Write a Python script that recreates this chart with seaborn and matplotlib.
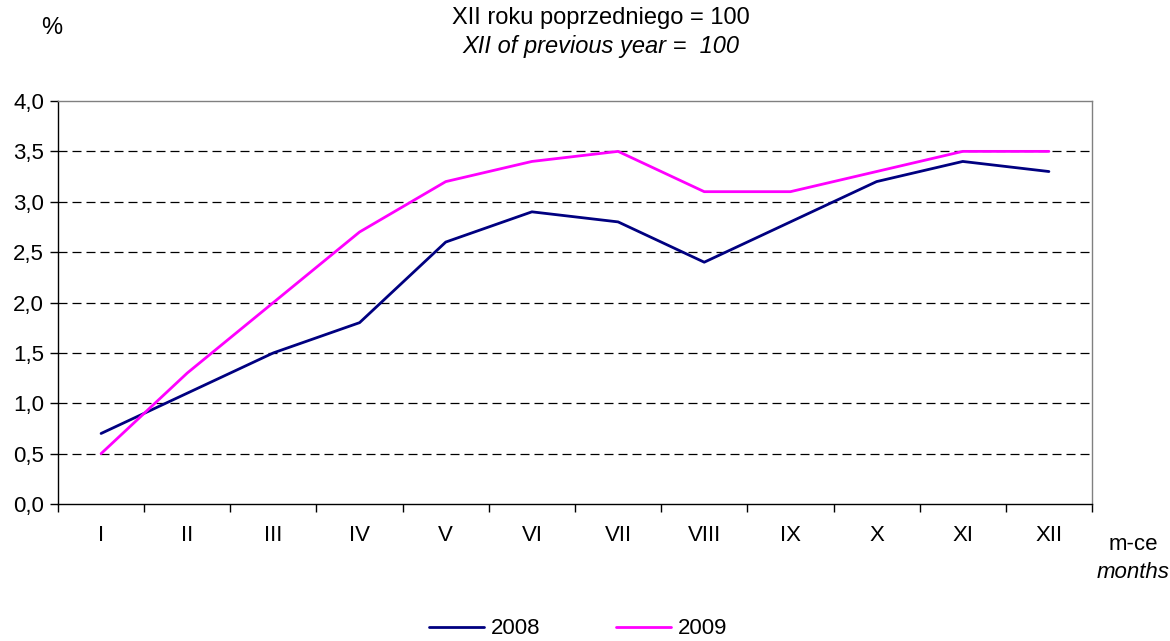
import matplotlib
matplotlib.use("Agg")
import matplotlib.pyplot as plt
import seaborn as sns
import pandas as pd
import numpy as np
from matplotlib.ticker import FixedLocator
from matplotlib.lines import Line2D

months = ["I", "II", "III", "IV", "V", "VI", "VII", "VIII", "IX", "X", "XI", "XII"]
v2008 = [0.7, 1.1, 1.5, 1.8, 2.6, 2.9, 2.8, 2.4, 2.8, 3.2, 3.4, 3.3]
v2009 = [0.5, 1.3, 2.0, 2.7, 3.2, 3.4, 3.5, 3.1, 3.1, 3.3, 3.5, 3.5]
series = ["2008", "2009"]
colors = {"2008": "#000080", "2009": "#FF00FF"}
yticks = [0.0, 0.5, 1.0, 1.5, 2.0, 2.5, 3.0, 3.5, 4.0]

df = pd.DataFrame({
    "month": months * 2,
    "pos": list(range(len(months))) * 2,
    "value": v2008 + v2009,
    "year": ["2008"] * len(months) + ["2009"] * len(months),
})

sns.set_theme(style="white")
plt.rcParams["font.family"] = ["Liberation Sans", "DejaVu Sans"]
plt.rcParams["text.color"] = "black"
plt.rcParams["xtick.color"] = "black"
plt.rcParams["ytick.color"] = "black"
FS = 16
FT = 17

fig = plt.figure(figsize=(11.7, 6.41), dpi=100)
ax = fig.add_axes([58 / 1170, 1 - 504 / 641, (1092 - 58) / 1170, (504 - 101) / 641])

sns.lineplot(data=df, x="pos", y="value", hue="year", hue_order=series,
             palette=colors, linewidth=2.0, ax=ax, legend=False, sort=False)

ax.set_xlim(-0.5, len(months) - 0.5)
ax.set_ylim(0, 4.0)
ax.set_yticks(yticks)
ax.set_yticklabels([f"{t:.1f}".replace(".", ",") for t in yticks], fontsize=FS)
ax.set_xticks(range(len(months)))
ax.set_xticklabels(months, fontsize=FS)
ax.xaxis.set_minor_locator(FixedLocator(np.arange(-0.5, len(months), 1.0)))
ax.tick_params(axis="x", which="major", length=0, pad=15, colors="black")
ax.tick_params(axis="x", which="minor", length=6, width=1, color="black", direction="out", bottom=True)
ax.tick_params(axis="y", which="major", length=6, width=1, color="black", direction="out", left=True, pad=4)
ax.set_xlabel("")
ax.set_ylabel("")

for t in yticks[1:-1]:
    ax.axhline(t, color="black", linestyle=(0, (7.2, 4)), linewidth=0.9, zorder=0)

for s in ["left", "bottom"]:
    ax.spines[s].set_color("black")
    ax.spines[s].set_linewidth(1.0)
for s in ["top", "right"]:
    ax.spines[s].set_color("#808080")
    ax.spines[s].set_linewidth(1.0)

fig.text(601 / 1170, 1 - 18 / 641, "XII roku poprzedniego = 100", ha="center", va="center", fontsize=FT)
fig.text(601 / 1170, 1 - 47 / 641, "XII of previous year =  100", ha="center", va="center", fontsize=FT, style="italic")
fig.text(52 / 1170, 1 - 28 / 641, "%", ha="center", va="center", fontsize=FT)
fig.text(1133 / 1170, 1 - 545 / 641, "m-ce", ha="center", va="center", fontsize=FS)
fig.text(1133 / 1170, 1 - 572 / 641, "months", ha="center", va="center", fontsize=FS, style="italic")

handles = [Line2D([0], [0], color=colors[s], linewidth=2.0) for s in series]
fig.legend(handles, series, loc="center", bbox_to_anchor=(578 / 1170, 1 - 629 / 641),
           ncol=2, frameon=False, fontsize=FS, handlelength=2.5, handletextpad=0.3,
           columnspacing=3.4)

fig.savefig("out.png", dpi=100)
